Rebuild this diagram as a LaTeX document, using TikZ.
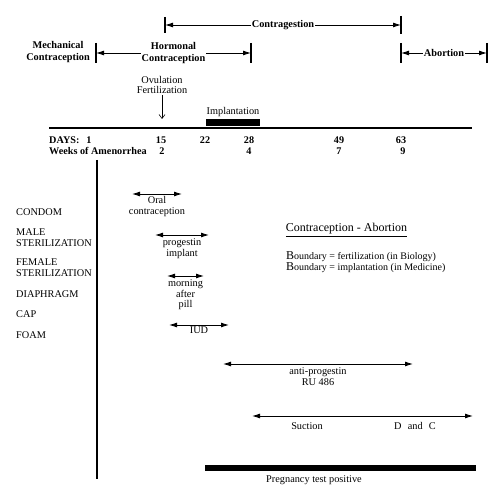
\documentclass[tikz,border=0pt]{standalone}
\usepackage{fontspec}
\setmainfont{Liberation Serif}
\usetikzlibrary{arrows.meta, positioning}

\begin{document}
\begin{tikzpicture}[x=1pt, y=-1pt,
		base/.style = {font=\fontsize{10.3}{10.8}\selectfont, inner sep=1pt, align=center},
		head/.style = {base, font=\fontsize{10.3}{11.5}\selectfont\bfseries, fill=white},
		num/.style = {base, font=\fontsize{10.2}{11}\selectfont\bfseries, anchor=base},
		method/.style = {base, anchor=west, align=left},
		tick/.style = {line width=1.3pt},
		span/.style = {line width=0.9pt, {Latex[length=8pt,width=5pt]}-{Latex[length=8pt,width=5pt]}}
		]
		\useasboundingbox (0,0) rectangle (500,494);
		
		% periods on top
		\coordinate (CgL) at (165,25);
		\coordinate (CgR) at (401,25);
		\coordinate (HcL) at (96,53);
		\coordinate (HcR) at (251,53);
		\coordinate (AbL) at (401,53);
		\coordinate (AbR) at (487,53);
		\foreach \c/\h in {CgL/8, CgR/9, HcL/10, HcR/10, AbL/10, AbR/10}
			\draw[tick] ([yshift=\h pt]\c) -- ([yshift=-\h pt]\c);
		\draw[span] (CgL) -- node[head] {Contragestion} (CgR);
		\draw[span] (HcL) -- node[head] {Hormonal\\Contraception} (HcR);
		\draw[span] (AbL) -- node[head] {Abortion} (AbR);
		\node (MC) [head, anchor=east] at (91,52) {Mechanical\\Contraception};
		
		% ovulation and implantation
		\node (Ov) [base] at (162,85) {Ovulation\\Fertilization};
		\coordinate (OvT) at (162,119);
		\draw[-{Straight Barb[length=4pt,width=6pt]}, line width=0.6pt] (Ov) -- (OvT);
		\node (Ib) [fill, minimum width=54pt, minimum height=7pt, inner sep=0pt] at (233,122.5) {};
		\node (Il) [base, above=0.5pt of Ib] {Implantation};
		
		% time axis
		\coordinate (AxL) at (49,128);
		\coordinate (AxR) at (472,128);
		\draw[line width=1.5pt] (AxL) -- (AxR);
		\node (Days) [num, anchor=base west] at (48,143.5) {DAYS:};
		\foreach \x/\d in {89/1, 161/15, 205/22, 249/28, 339/49, 401/63}
			\node [num] at (\x,143.5) {\d};
		\node (Weeks) [num, anchor=base west] at (48,155) {Weeks of Amenorrhea};
		\foreach \x/\w in {162/2, 249/4, 339/7, 403/9}
			\node [num] at (\x,155) {\w};
		\coordinate (VlT) at (97,160);
		\coordinate (VlB) at (97,479);
		\draw[line width=1.4pt] (VlT) -- (VlB);
		
		% mechanical methods
		\node (Condom) [method] at (15,212) {CONDOM};
		\node (Male) [method] at (15,237.5) {MALE\\STERILIZATION};
		\node (Female) [method] at (15,268) {FEMALE\\STERILIZATION};
		\node (Diaph) [method] at (15,294) {DIAPHRAGM};
		\node (Cap) [method] at (15,314) {CAP};
		\node (Foam) [method] at (15,335) {FOAM};
		
		% hormonal methods
		\coordinate (OrL) at (132,194);
		\coordinate (OrR) at (182,194);
		\draw[span] (OrL) -- node[base, below=1pt] {Oral\\contraception} (OrR);
		\coordinate (PgL) at (155,235);
		\coordinate (PgR) at (209,235);
		\draw[span] (PgL) -- node[base, below=2pt] {progestin\\implant} (PgR);
		\coordinate (MpL) at (167,276);
		\coordinate (MpR) at (204,276);
		\draw[span] (MpL) -- node[base, below=2pt] {morning\\after\\pill} (MpR);
		\coordinate (IuL) at (169,325);
		\coordinate (IuR) at (229,325);
		\draw[span] (IuL) -- node[base, below=0pt] {IUD} (IuR);
		
		% contragestion and abortion
		\coordinate (RuL) at (223,364);
		\coordinate (RuR) at (413,364);
		\draw[span] (RuL) -- node[base, below=2pt] {anti-progestin\\RU 486} (RuR);
		\coordinate (SuL) at (252,416);
		\coordinate (SuR) at (473,416);
		\draw[span] (SuL) -- (SuR);
		\node (Suc) [base] at (307,426) {Suction};
		\node (DC) [base] at (415,426) {D\hspace{0.6em}and\hspace{0.6em}C};
		\node (Pt) [fill, minimum width=271pt, minimum height=6pt, inner sep=0pt] at (340.5,468) {};
		\node (PtL) [base] at (314,480) {Pregnancy test positive};
		
		% boundary note
		\node (CA) [base, font=\fontsize{12}{13}\selectfont] at (346.5,230) {\underline{Contraception - Abortion}};
		\node (Bd) [base, anchor=north west, align=left, font=\fontsize{10}{9.6}\selectfont] at (285,250) {{\fontsize{12}{9.6}\selectfont B}oundary = fertilization (in Biology)\\{\fontsize{12}{9.6}\selectfont B}oundary = implantation (in Medicine)};
	\end{tikzpicture}
\end{document}
